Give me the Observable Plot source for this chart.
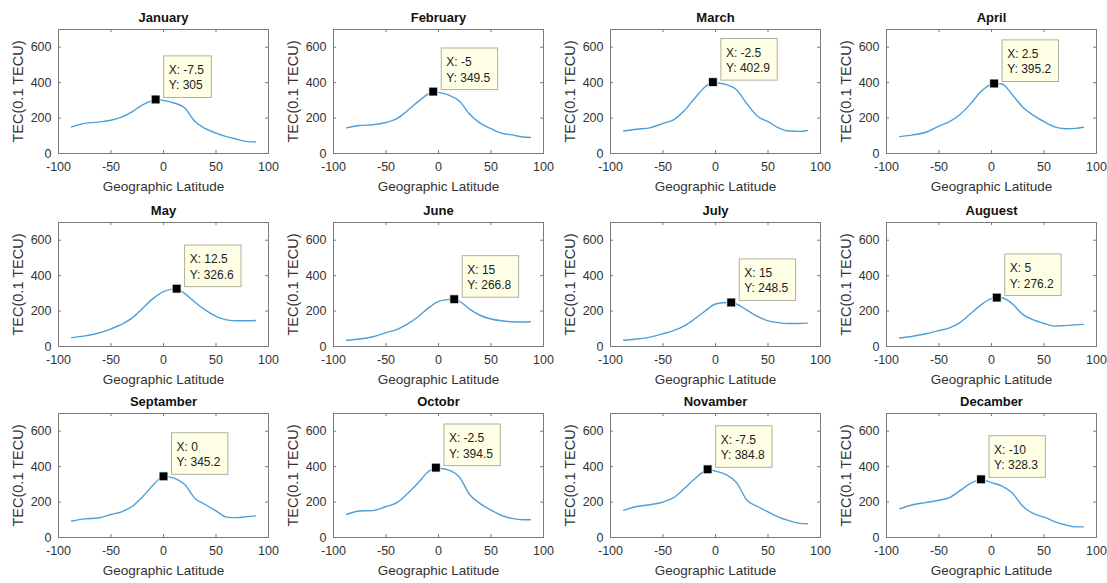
<!DOCTYPE html>
<html><head><meta charset="utf-8">
<script src="https://cdn.jsdelivr.net/npm/d3@7"></script>
<script src="https://cdn.jsdelivr.net/npm/@observablehq/plot@0.6"></script>
<style>
body{margin:0;background:#fff;}
#wrap{position:relative;width:1107px;height:583px;font-family:"Liberation Sans",Arial,sans-serif;}
#wrap svg{position:absolute;overflow:visible;}
</style></head><body><div id="wrap"></div>
<script>
// ---- data ----
const months = ["January","February","March","April","May","June","July","Auguest","Septamber","Octobr","Novamber","Decamber"];
const lat = [-87.5,-75,-62.5,-50,-40,-30,-20,-10,0,10,20,30,40,50,60,70,80,87.5];
const jan = [150,170,177,188,205,235,275,300,300,285,258,180,140,115,95,80,67,65];
const feb = [145,158,162,175,195,240,290,335,345,330,295,220,170,140,115,105,93,90];
const mar = [127,137,145,170,190,240,310,375,400,390,360,280,210,180,145,127,125,130];
const apr = [95,105,120,155,180,220,280,350,392,392,330,260,215,180,150,140,142,148];
const may = [50,60,75,100,125,160,215,270,310,325,300,250,205,170,150,145,145,147];
const jun = [35,42,55,78,95,125,165,215,255,265,255,210,175,155,145,140,138,140];
const jul = [35,42,53,72,90,115,155,200,240,248,240,205,170,145,135,130,130,132];
const aug = [48,58,72,90,105,135,185,235,270,275,240,180,150,130,115,118,122,125];
const sep = [93,105,110,130,145,175,230,295,345,335,300,220,185,150,115,112,118,122];
const oct = [130,150,152,175,195,245,305,370,392,380,340,240,190,155,125,108,100,100];
const nov = [153,175,185,200,225,275,330,378,375,355,310,210,175,145,115,95,80,78];
const dec = [162,185,197,210,225,265,305,328.3,310,290,250,175,135,115,90,72,60,60];
const tec = [jan,feb,mar,apr,may,jun,jul,aug,sep,oct,nov,dec];
const peakX = [-7.5,-5,-2.5,2.5,12.5,15,15,5,0,-2.5,-7.5,-10];
const peakY = [305,349.5,402.9,395.2,326.6,266.8,248.5,276.2,345.2,394.5,384.8,328.3];
const xTicks = [-100,-50,0,50,100];
const yTicks = [0,200,400,600];
const xLabel = "Geographic Latitude";
const yLabel = "TEC(0.1 TECU)";

// ---- layout ----
const colLeft = [0,275,552,828], rowTop = [0,193,384];
const W = 276, H = 193, mL = 58, mR = 8, mT = 29, mB = 40;
const fw = W - mL - mR, fh = H - mT - mB, tk = 3;
const FONT = '"Liberation Sans", Arial, sans-serif';
const wrap = document.getElementById("wrap");

months.forEach((m, i) => {
  const r = Math.floor(i / 4), c = i % 4;
  const rows = lat.map((x, j) => ({x, y: tec[i][j]})).filter(d => d.x !== peakX[i]);
  rows.push({x: peakX[i], y: peakY[i]});
  rows.sort((a, b) => a.x - b.x);
  const peak = [{x: peakX[i], y: peakY[i]}];
  const chart = Plot.plot({
    width: W, height: H, marginLeft: mL, marginRight: mR, marginTop: mT, marginBottom: mB,
    style: {fontFamily: FONT, fontSize: "12px", color: "#333", background: "transparent", overflow: "visible"},
    x: {domain: [-100, 100]},
    y: {domain: [0, 700]},
    marks: [
      Plot.frame({stroke: "#7a7a7a"}),
      Plot.tickX(xTicks, {x: d => d, insetTop: fh - tk, stroke: "#7a7a7a"}),
      Plot.tickX(xTicks, {x: d => d, insetBottom: fh - tk, stroke: "#7a7a7a"}),
      Plot.tickY(yTicks, {y: d => d, insetRight: fw - tk, stroke: "#7a7a7a"}),
      Plot.tickY(yTicks, {y: d => d, insetLeft: fw - tk, stroke: "#7a7a7a"}),
      Plot.axisX(xTicks, {tickSize: 0, tickPadding: 9, fontSize: 12.5, label: null, tickFormat: d => String(d)}),
      Plot.axisY(yTicks, {tickSize: 0, tickPadding: 7, fontSize: 12.5, label: null, tickFormat: d => String(d)}),
      Plot.text([m], {text: d => d, frameAnchor: "top", textAnchor: "middle", lineAnchor: "middle", dy: -12, fontWeight: "bold", fontSize: 13, fill: "#111"}),
      Plot.text([xLabel], {text: d => d, frameAnchor: "bottom", textAnchor: "middle", lineAnchor: "middle", dy: 33, fontSize: 13.5, fill: "#333"}),
      Plot.text([yLabel], {text: d => d, frameAnchor: "left", textAnchor: "middle", lineAnchor: "middle", dx: -40, rotate: -90, fontSize: 14.5, fill: "#333"}),
      Plot.line(rows, {x: "x", y: "y", stroke: "#4f9fd6", strokeWidth: 1.4, curve: "monotone-x"}),
      Plot.text(peak, {x: "x", y: "y", text: d => `X: ${d.x}\nY: ${d.y}`, textAnchor: "start", lineAnchor: "bottom",
        dx: 13, dy: -10, lineHeight: 1.3, fontSize: 12, fill: "#222", className: "dtip"}),
      Plot.dot(peak, {x: "x", y: "y", symbol: "square", r: 5, fill: "#000", stroke: "#fff", strokeWidth: 0.8})
    ]
  });
  chart.style.left = colLeft[c] + "px";
  chart.style.top = rowTop[r] + "px";
  wrap.appendChild(chart);
  // datatip background box behind text
  chart.querySelectorAll("g.dtip text").forEach(t => {
    const b = t.getBBox();
    const ctm = t.getAttribute("transform");
    const rect = document.createElementNS("http://www.w3.org/2000/svg", "rect");
    rect.setAttribute("x", b.x - 5);
    rect.setAttribute("y", b.y - 7);
    rect.setAttribute("width", b.width + 12);
    rect.setAttribute("height", b.height + 12);
    rect.setAttribute("fill", "#ffffe6");
    rect.setAttribute("stroke", "#b0b0a0");
    if (ctm) rect.setAttribute("transform", ctm);
    t.parentNode.insertBefore(rect, t);
  });
});
</script></body></html>
